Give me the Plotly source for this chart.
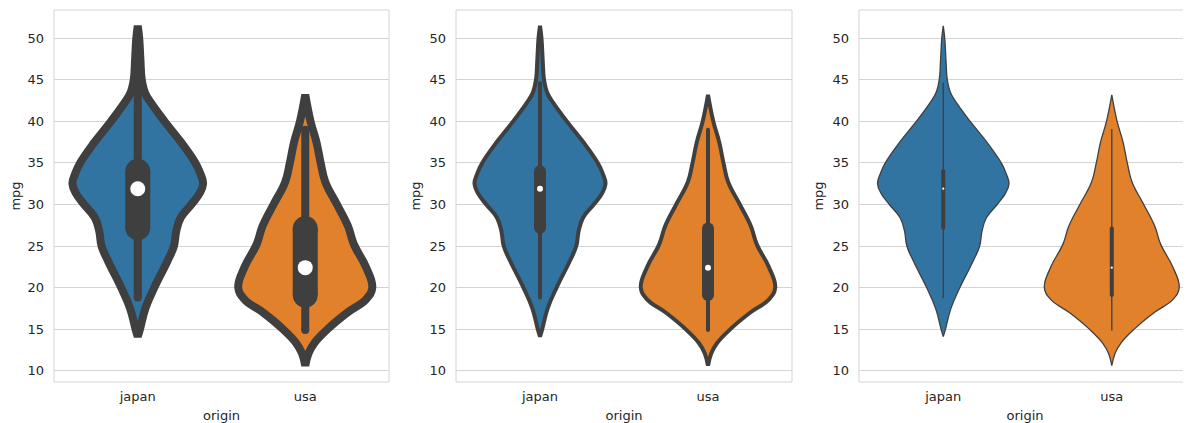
import plotly.graph_objects as go

# ---- data ----
categories = ["japan", "usa"]

# violin outline: mpg levels and relative density (1.0 = widest point)
japan_mpg = [14.1, 15.0, 17.5, 20.0, 23.2, 25.0, 26.8, 28.4, 30.0, 31.3, 32.5, 33.8, 35.0, 37.4, 40.0, 42.2, 43.4, 45.0, 47.4, 50.0, 51.5]
japan_dens = [0.0, 0.033, 0.114, 0.247, 0.444, 0.54, 0.575, 0.64, 0.80, 0.92, 0.975, 0.93, 0.86, 0.655, 0.40, 0.2, 0.11, 0.06, 0.04, 0.022, 0.0]

usa_mpg = [10.6, 12.1, 13.3, 15.0, 17.0, 18.55, 20.0, 22.5, 25.2, 27.4, 30.0, 32.7, 35.0, 37.5, 40.0, 43.2]
usa_dens = [0.0, 0.049, 0.133, 0.333, 0.63, 0.904, 1.0, 0.904, 0.726, 0.637, 0.474, 0.30, 0.23, 0.167, 0.079, 0.0]

# box statistics: whisker low, Q1, median, Q3, whisker high
japan_stats = [18.8, 27.2, 31.9, 34.0, 44.6]
usa_stats = [14.9, 19.1, 22.4, 27.1, 39.0]

y_ticks = [10, 15, 20, 25, 30, 35, 40, 45, 50]

# ---- styling ----
fills = ["#3274a1", "#e1812c"]
gray = "#3f3f3f"
font_family = "DejaVu Sans"
text_color = "#262626"
grid_color = "#d4d4d4"
panel_lw = [8, 4, 1.3]
panel_box = [25, 12, 4]
panel_dot = [15, 6, 2.2]
half_width = 0.4

# page body has an 8px margin, so figure coordinates are screen - 8
W, H = 1183, 415
panels_px = [(46, 381), (448, 784), (851, 1183)]
x_ranges = [[-0.5, 1.5], [-0.5, 1.5], [-0.5, 1.47]]

profiles = [(japan_mpg, japan_dens, japan_stats), (usa_mpg, usa_dens, usa_stats)]

fig = go.Figure()

for p in range(3):
    xa = "x" if p == 0 else f"x{p+1}"
    ya = "y" if p == 0 else f"y{p+1}"
    lw, bw, ds = panel_lw[p], panel_box[p], panel_dot[p]
    for ci, (mpg, dens, st) in enumerate(profiles):
        c = ci
        xs = [c + half_width * d for d in dens] + [c - half_width * d for d in reversed(dens)]
        ys = list(mpg) + list(reversed(mpg))
        xs.append(xs[0]); ys.append(ys[0])
        fig.add_trace(go.Scatter(x=xs, y=ys, mode="lines", fill="toself",
                                 fillcolor=fills[ci], line=dict(color=gray, width=lw, shape="spline", smoothing=1.2),
                                 xaxis=xa, yaxis=ya, hoverinfo="skip", showlegend=False))
        # whisker
        fig.add_trace(go.Scatter(x=[c, c], y=[st[0], st[4]], mode="lines+markers",
                                 line=dict(color=gray, width=lw),
                                 marker=dict(color=gray, size=lw, line=dict(width=0)),
                                 xaxis=xa, yaxis=ya, hoverinfo="skip", showlegend=False))
        # box
        fig.add_trace(go.Scatter(x=[c, c], y=[st[1], st[3]], mode="lines+markers",
                                 line=dict(color=gray, width=bw),
                                 marker=dict(color=gray, size=bw, line=dict(width=0)),
                                 xaxis=xa, yaxis=ya, hoverinfo="skip", showlegend=False))
        # median
        fig.add_trace(go.Scatter(x=[c], y=[st[2]], mode="markers",
                                 marker=dict(color="white", size=ds, line=dict(width=0)),
                                 xaxis=xa, yaxis=ya, hoverinfo="skip", showlegend=False))

tick_font = dict(family=font_family, size=13, color=text_color)
for p in range(3):
    x0, x1 = panels_px[p]
    sfx = "" if p == 0 else str(p + 1)
    fig.layout[f"xaxis{sfx}"] = dict(
        domain=[x0 / W, min(x1 / W, 1.0)], range=x_ranges[p], anchor=f"y{sfx}",
        tickvals=[0, 1], ticktext=categories, showgrid=False, zeroline=False,
        showline=False, ticks="", tickfont=tick_font, automargin=False,
        ticklabelstandoff=5,
        title=dict(text="origin", font=tick_font, standoff=8), fixedrange=True)
    fig.layout[f"yaxis{sfx}"] = dict(
        domain=[0, 1], range=[8.64, 53.4], anchor=f"x{sfx}",
        tickvals=y_ticks, showgrid=True, gridcolor=grid_color, gridwidth=1,
        zeroline=False, showline=False, ticks="", tickfont=tick_font, automargin=False,
        ticklabelstandoff=9,
        title=dict(text="mpg", font=tick_font, standoff=5), fixedrange=True)
    fig.add_shape(type="rect", xref=f"x{sfx} domain", yref=f"y{sfx} domain",
                  x0=0, x1=1, y0=0, y1=1, line=dict(color=grid_color, width=1),
                  fillcolor="rgba(0,0,0,0)", layer="below")

fig.update_layout(width=W, height=H, margin=dict(l=0, r=0, t=2, b=41),
                  paper_bgcolor="white", plot_bgcolor="white",
                  font=dict(family=font_family, color=text_color))

fig.write_html("out.html")
